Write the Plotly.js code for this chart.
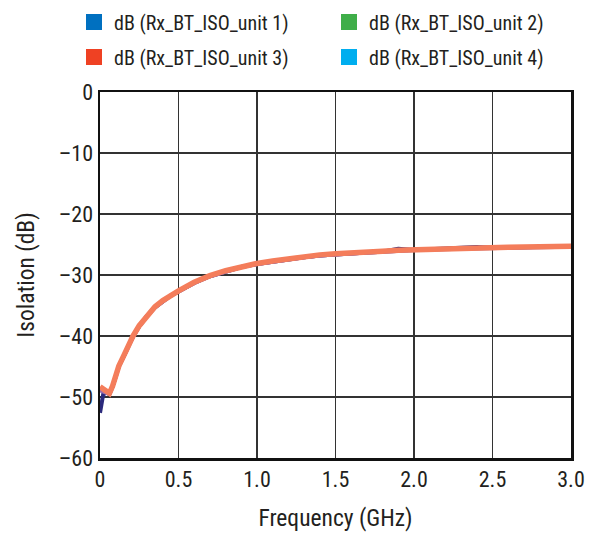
<!DOCTYPE html>
<html><head><meta charset="utf-8">
<script src="https://cdn.plot.ly/plotly-3.0.1.min.js"></script>
<style>html,body{margin:0;padding:0;background:#fff}#chart{width:599px;height:537px}</style>
</head><body><div id="chart"></div>
<script>
const freq = [0, 0.01, 0.02, 0.04, 0.06, 0.08, 0.10, 0.12, 0.15, 0.18, 0.21, 0.25, 0.30, 0.35, 0.40, 0.45, 0.50, 0.60, 0.70, 0.80, 0.90, 1.00, 1.10, 1.20, 1.30, 1.40, 1.50, 1.60, 1.70, 1.80, 1.90, 2.00, 2.10, 2.20, 2.30, 2.40, 2.50, 2.60, 2.70, 2.80, 2.90, 3.00];
const unit1 = [-52.6, -51.2, -49.6, -49.3, -49.5, -48.3, -46.6, -45.0, -43.4, -41.6, -40.1, -38.4, -36.7, -35.3, -34.3, -33.4, -32.7, -31.3, -30.2, -29.4, -28.7, -28.2, -27.8, -27.4, -27.1, -26.8, -26.6, -26.4, -26.3, -26.2, -25.7, -25.9, -25.8, -25.7, -25.65, -25.4, -25.55, -25.5, -25.4, -25.35, -25.3, -25.3];
const unit2 = [-48.8, -48.9, -49.0, -49.3, -49.5, -48.3, -46.6, -45.0, -43.4, -41.6, -40.1, -38.4, -36.7, -35.3, -34.3, -33.4, -32.7, -31.3, -30.2, -29.4, -28.7, -28.2, -27.8, -27.4, -27.1, -26.8, -26.6, -26.4, -26.3, -26.2, -26.0, -25.9, -25.8, -25.75, -25.65, -25.6, -25.55, -25.5, -25.45, -25.45, -25.4, -25.35];
const unit3 = [-48.3, -48.5, -48.8, -49.2, -49.4, -48.2, -46.5, -44.9, -43.3, -41.5, -40.0, -38.3, -36.6, -35.2, -34.2, -33.3, -32.6, -31.2, -30.1, -29.3, -28.6, -28.1, -27.7, -27.3, -27.0, -26.7, -26.5, -26.3, -26.2, -26.1, -25.95, -25.85, -25.75, -25.7, -25.6, -25.55, -25.5, -25.45, -25.4, -25.4, -25.35, -25.3];
const unit4 = [-48.9, -49.0, -49.1, -49.3, -49.5, -48.3, -46.6, -45.0, -43.4, -41.6, -40.1, -38.4, -36.7, -35.3, -34.3, -33.4, -32.7, -31.3, -30.2, -29.4, -28.7, -28.2, -27.8, -27.4, -27.1, -26.8, -26.6, -26.4, -26.3, -26.2, -26.0, -25.9, -25.8, -25.7, -25.65, -25.6, -25.5, -25.5, -25.45, -25.4, -25.4, -25.3];
const seriesNames = ['dB (Rx_BT_ISO_unit 1)', 'dB (Rx_BT_ISO_unit 2)', 'dB (Rx_BT_ISO_unit 3)', 'dB (Rx_BT_ISO_unit 4)'];
const xTickVals = [0, 0.5, 1.0, 1.5, 2.0, 2.5, 3.0];
const xTickText = ['0', '0.5', '1.0', '1.5', '2.0', '2.5', '3.0'];
const yTickVals = [0, -10, -20, -30, -40, -50, -60];
const yTickText = ['0', '–10', '–20', '–30', '–40', '–50', '–60'];

const legendColors = ['#0070C0', '#3FAE49', '#EF4123', '#00AEEF'];
const lineColors = ['#2B2A7C', '#7A5AA8', '#F47D5B', '#9A6FB0'];
const lineWidths = [4, 4, 5.5, 4];
const dataBy = [unit1, unit2, unit3, unit4];
const drawOrder = [0, 1, 3, 2];

const FONT = '"Roboto Condensed", "Liberation Sans", sans-serif';
const TXT = '#231F20';
const W = 599, H = 537, ML = 100, MR = 28, MT = 92, MB = 79;
const PW = W - ML - MR, PH = H - MT - MB;
const traces = [];
drawOrder.forEach(i => {
  traces.push({x: freq, y: dataBy[i], type: 'scatter', mode: 'lines', line: {color: lineColors[i], width: lineWidths[i]}, showlegend: false, hoverinfo: 'skip'});
});
[0,1,2,3].forEach(i => {
  traces.push({x: [null], y: [null], type: 'scatter', mode: 'markers', name: seriesNames[i],
    marker: {symbol: 'square', size: 18, color: legendColors[i]}, legend: i < 2 ? 'legend' : 'legend2', showlegend: true});
});

const legendCommon = {orientation: 'h', xref: 'paper', yref: 'paper', xanchor: 'left', yanchor: 'middle',
  font: {family: FONT, size: 20, color: TXT}, entrywidth: 210, entrywidthmode: 'pixels', itemwidth: 30,
  bgcolor: 'rgba(0,0,0,0)', borderwidth: 0, traceorder: 'normal'};
const lx = (74 - ML) / PW;
const ly = px => (H - MB - px) / PH;

const layout = {
  width: W, height: H,
  margin: {l: ML, r: MR, t: MT, b: MB, autoexpand: false},
  paper_bgcolor: '#fff', plot_bgcolor: '#fff',
  font: {family: FONT, size: 20, color: TXT},
  xaxis: {range: [0, 3.0], tickvals: xTickVals, ticktext: xTickText, showgrid: true, gridcolor: '#333', gridwidth: 1.5,
    zeroline: false, showline: true, linecolor: '#111', linewidth: 2.5, mirror: true, ticks: '', ticklen: 0,
    tickfont: {family: FONT, size: 22, color: TXT},
    title: {text: 'Frequency (GHz)', font: {family: FONT, size: 23.5, color: TXT}, standoff: 19}},
  yaxis: {range: [-60, 0], tickvals: yTickVals, ticktext: yTickText, showgrid: true, gridcolor: '#333', gridwidth: 1.5,
    zeroline: false, showline: true, linecolor: '#111', linewidth: 2.5, mirror: true, ticks: '', ticklen: 0,
    tickfont: {family: FONT, size: 22, color: TXT},
    title: {text: 'Isolation (dB)', font: {family: FONT, size: 23.5, color: TXT}, standoff: 18}},
  legend: Object.assign({}, legendCommon, {x: lx, y: ly(22)}),
  legend2: Object.assign({}, legendCommon, {x: lx, y: ly(57)}),
  showlegend: true
};
Plotly.newPlot('chart', traces, layout, {staticPlot: true, displayModeBar: false});
</script></body></html>
